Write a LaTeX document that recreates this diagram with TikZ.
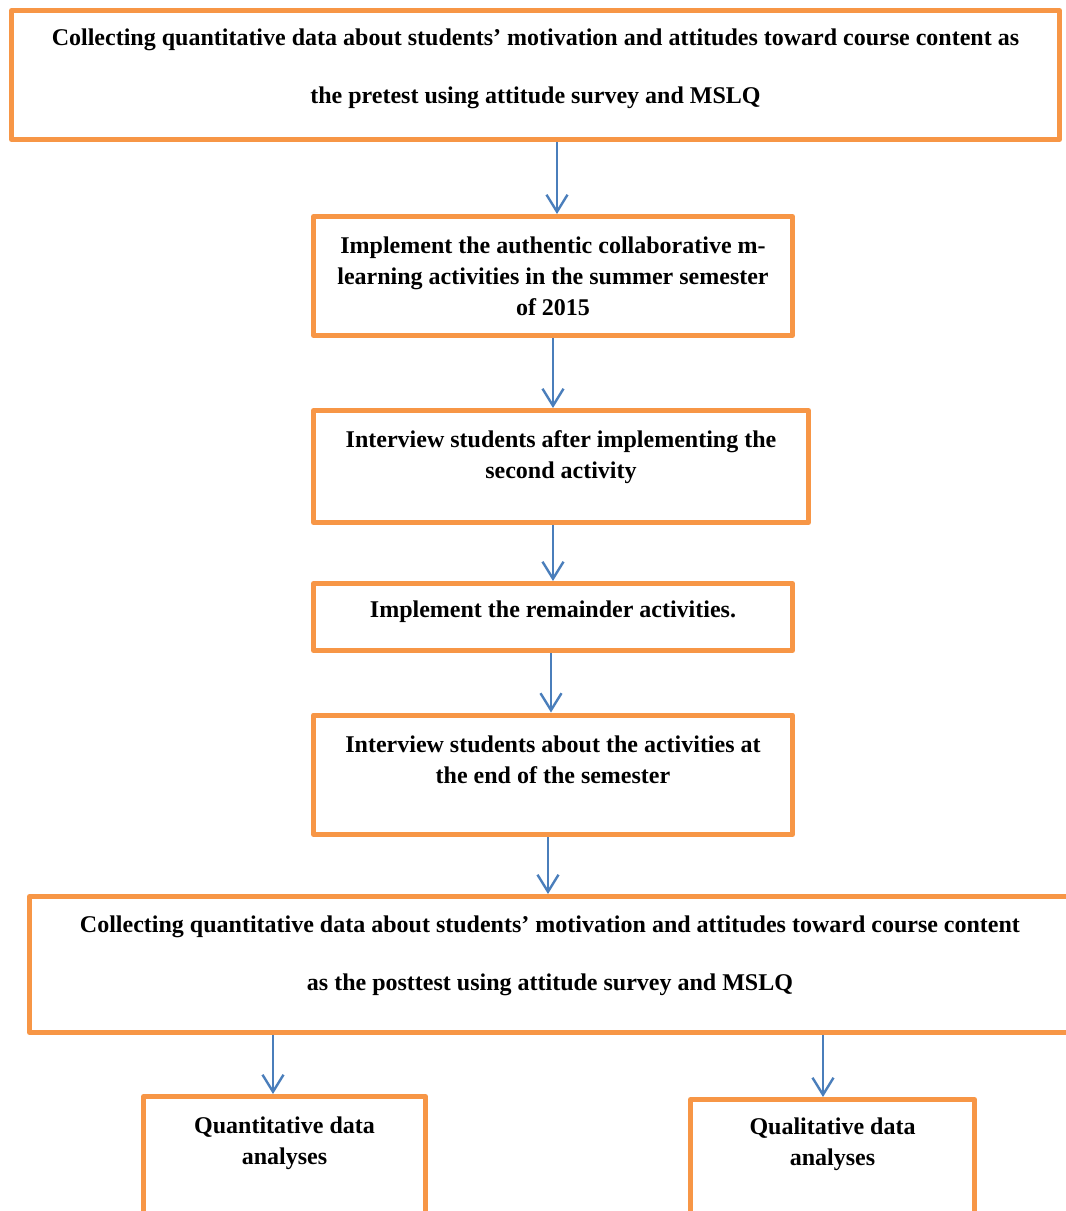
\documentclass[tikz,border=0pt]{standalone}
\usepackage{fontspec}
\setmainfont{Liberation Serif}
\usetikzlibrary{arrows.meta}
\definecolor{boxorange}{HTML}{F79646}
\definecolor{arrowblue}{HTML}{4A7EBB}
% centred multi-line text whose baseline is that of its first line
\newcommand{\flowlines}[1]{\begin{tabular}[t]{@{}c@{}}#1\end{tabular}}
\begin{document}
\begin{tikzpicture}[x=0.75pt, y=-0.75pt,
  box/.style 2 args={draw=boxorange, line width=3.75pt, line join=round,
    inner sep=0pt, minimum width=#1*0.75pt, minimum height=#2*0.75pt},
  txt/.style={anchor=base, inner sep=0pt,
    font=\bfseries\fontsize{18pt}{23.25pt}\selectfont},
  widetxt/.style={anchor=base, inner sep=0pt,
    font=\bfseries\fontsize{18pt}{43.5pt}\selectfont},
  arr/.style={draw=arrowblue, line width=1.8pt,
    -{Straight Barb[length=12.75pt, width=15.75pt, line width=1.8pt]}}]
\useasboundingbox (0,0) rectangle (1065,1211);

% boxes
\node[box={1048}{129}]   (b1) at (535.5,75) {};
\node[box={479}{119}]    (b2) at (553,276) {};
\node[box={495}{112}]    (b3) at (561,466.5) {};
\node[box={479}{67}]     (b4) at (553,617) {};
\node[box={479}{119.5}]  (b5) at (553,774.75) {};
\node[box={1041}{136}]   (b6) at (550,964.5) {};
\node[box={282}{153.5}]  (b7) at (284.5,1173.25) {};
\node[box={284}{150.5}]  (b8) at (832.5,1174.75) {};

% texts
\node[widetxt] (t1) at (535.5,45) {\flowlines{Collecting quantitative data about students’ motivation and attitudes toward course content as\\ the pretest using attitude survey and MSLQ}};
\node[txt] (t2) at (553,253) {\flowlines{Implement the authentic collaborative m-\\ learning activities in the summer semester\\ of 2015}};
\node[txt] (t3) at (561,447) {\flowlines{Interview students after implementing the\\ second activity}};
\node[txt] (t4) at (553,617) {Implement the remainder activities.};
\node[txt] (t5) at (553,752) {\flowlines{Interview students about the activities at\\ the end of the semester}};
\node[widetxt] (t6) at (550,932) {\flowlines{Collecting quantitative data about students’ motivation and attitudes toward course content\\ as the posttest using attitude survey and MSLQ}};
\node[txt] (t7) at (284.5,1133) {\flowlines{Quantitative data\\ analyses}};
\node[txt] (t8) at (832.5,1134) {\flowlines{Qualitative data\\ analyses}};

% vertical positions of the connectors
\coordinate (x1) at (557,0);
\coordinate (x2) at (553,0);
\coordinate (x3) at (553,0);
\coordinate (x4) at (551,0);
\coordinate (x5) at (548,0);
\coordinate (x6) at (273,0);
\coordinate (x7) at (823,0);

% connectors
\draw[arr] (b1.south -| x1) -- (b2.north -| x1);
\draw[arr] (b2.south -| x2) -- (b3.north -| x2);
\draw[arr] (b3.south -| x3) -- (b4.north -| x3);
\draw[arr] (b4.south -| x4) -- (b5.north -| x4);
\draw[arr] (b5.south -| x5) -- (b6.north -| x5);
\draw[arr] (b6.south -| x6) -- (b7.north -| x6);
\draw[arr] (b6.south -| x7) -- (b8.north -| x7);
\end{tikzpicture}
\end{document}
